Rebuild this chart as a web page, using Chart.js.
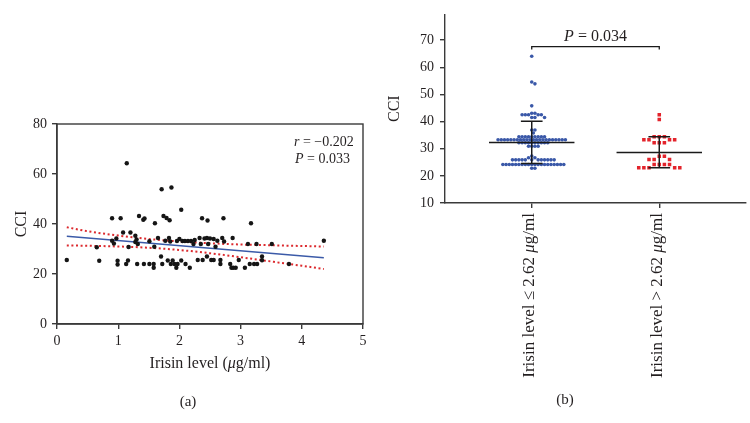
<!DOCTYPE html>
<html>
<head>
<meta charset="utf-8">
<script src="https://cdn.jsdelivr.net/npm/chart.js@4.4.1/dist/chart.umd.min.js"></script>
<style>
  html, body { margin: 0; padding: 0; background: #fff; }
  #wrap { position: relative; width: 750px; height: 423px; }
  #left, #right { position: absolute; top: 0; }
  #left { left: 0; }
  #right { left: 375px; }
</style>
</head>
<body>
<div id="wrap">
  <canvas id="left" width="375" height="423"></canvas>
  <canvas id="right" width="375" height="423"></canvas>
</div>
<script>
// panel (a): irisin level vs CCI
const irisin = [0.16, 0.65, 0.69, 0.90, 0.90, 0.93, 0.97, 0.99, 0.99, 1.04,
  1.08, 1.13, 1.14, 1.16, 1.17, 1.20, 1.28, 1.30, 1.28, 1.32,
  1.31, 1.34, 1.41, 1.43, 1.42, 1.51, 1.51, 1.58, 1.58, 1.59,
  1.60, 1.65, 1.71, 1.70, 1.72, 1.74, 1.77, 1.79, 1.81, 1.83,
  1.84, 1.85, 1.86, 1.87, 1.89, 1.92, 1.95, 1.97, 1.96, 2.00,
  2.03, 2.03, 2.05, 2.09, 2.10, 2.14, 2.17, 2.19, 2.23, 2.25,
  2.30, 2.33, 2.35, 2.37, 2.38, 2.41, 2.45, 2.45, 2.46, 2.47,
  2.50, 2.52, 2.56, 2.56, 2.59, 2.62, 2.67, 2.67, 2.70, 2.72,
  2.73, 2.83, 2.85, 2.87, 2.88, 2.92, 2.97, 3.07, 3.12, 3.15,
  3.17, 3.22, 3.26, 3.27, 3.35, 3.35, 3.51, 3.79, 4.36];
const cci = [25.6, 30.7, 25.3, 42.3, 33.3, 32.2, 34.2, 25.3, 23.8, 42.3,
  36.6, 24.0, 64.3, 25.4, 30.8, 36.6, 35.3, 33.8, 32.8, 32.0,
  24.0, 43.2, 41.7, 42.2, 24.0, 33.1, 24.0, 22.5, 24.0, 30.9,
  40.3, 34.4, 53.9, 27.0, 24.0, 43.2, 33.3, 42.4, 25.4, 34.4,
  41.5, 33.0, 24.0, 54.6, 25.4, 24.0, 22.5, 24.0, 33.2, 34.0,
  45.7, 25.4, 33.2, 33.2, 24.0, 33.2, 22.5, 33.2, 32.0, 33.6,
  25.6, 34.4, 32.0, 42.3, 25.6, 34.2, 34.4, 27.0, 41.4, 32.0,
  34.2, 25.6, 25.6, 34.0, 30.9, 33.3, 25.6, 24.0, 34.4, 42.3,
  33.0, 24.0, 22.5, 34.4, 22.5, 22.5, 25.6, 22.5, 32.0, 24.0,
  40.3, 24.0, 32.0, 24.0, 27.0, 25.5, 32.0, 24.0, 33.3];

const fitX = [0.16, 4.36];
const fitY = [35.1, 26.5];
const bandX = [0.16, 0.5, 1.0, 1.5, 2.0, 2.5, 3.0, 3.5, 4.0, 4.36];
const bandUpper = [38.7, 37.1, 35.4, 34.0, 33.0, 32.3, 31.8, 31.5, 31.2, 31.0];
const bandLower = [31.4, 31.3, 31.0, 30.5, 29.6, 28.3, 26.7, 25.0, 23.3, 22.0];
const statR = '\u22120.202';
const statP = '0.033';

// panel (b): CCI by irisin group
const groupNames = ['Irisin level \u2264 2.62 ', 'Irisin level > 2.62 '];
const lowIrisin = [64.1, 54.6, 53.9, 45.8, 43.1, 43.1,
  42.5, 42.5, 42.5, 42.5, 42.5, 41.5, 41.5, 41.5, 36.9, 36.9, 35.8,
  34.4, 34.4, 34.4, 34.4, 34.4, 34.4, 34.4, 34.4, 34.4,
  33.3, 33.3, 33.3, 33.3, 33.3, 33.3, 33.3, 33.3, 33.3, 33.3, 33.3,
  33.3, 33.3, 33.3, 33.3, 33.3, 33.3, 33.3, 33.3, 33.3, 33.3, 33.3,
  32.2, 32.2, 32.2, 32.2, 32.2, 32.2, 32.2, 32.2, 32.2, 32.2,
  30.9, 30.9, 30.9, 30.9, 27.3, 26.7, 26.7,
  25.9, 25.9, 25.9, 25.9, 25.9, 25.9, 25.9, 25.9, 25.9, 25.9, 25.9, 25.9,
  24.2, 24.2, 24.2, 24.2, 24.2, 24.2, 24.2, 24.2, 24.2, 24.2,
  24.2, 24.2, 24.2, 24.2, 24.2, 24.2, 24.2, 24.2, 24.2, 24.2,
  22.8, 22.8];
const highIrisin = [42.5, 40.8, 34.4, 34.4, 34.4, 33.3, 33.3, 33.3, 33.3,
  32.2, 32.2, 32.2, 27.2, 27.2, 26.0, 26.0, 26.0,
  24.2, 24.2, 24.2, 24.2, 23.0, 23.0, 23.0, 23.0, 23.0];
const groupMean = [32.3, 28.6];
const groupLow = [24.6, 23.0];
const groupHigh = [40.1, 34.4];
const pGroups = '0.034';
const bracketY = 67.6;
const bracketFoot = 66.6;

const SERIF = '"Liberation Serif", "Times New Roman", serif';
const INK = '#231f20';
const AXIS = '#3a3a3a';

function font(size, italic) {
  return (italic ? 'italic ' : '') + size + 'px ' + SERIF;
}

// draw text made of plain/italic pieces
function drawRich(ctx, parts, x, y, size, align) {
  let w = 0;
  parts.forEach(p => { ctx.font = font(size, p[1]); w += ctx.measureText(p[0]).width; });
  let cx = align === 'right' ? x - w : align === 'center' ? x - w / 2 : x;
  ctx.textBaseline = 'middle';
  ctx.textAlign = 'left';
  ctx.fillStyle = INK;
  parts.forEach(p => {
    ctx.font = font(size, p[1]);
    ctx.fillText(p[0], cx, y);
    cx += ctx.measureText(p[0]).width;
  });
}

// simple beeswarm: values stay on their y, x moves out until no overlap
function swarm(values, center, dotW, dotH) {
  const placed = [];
  [...values].sort((a, b) => b - a).forEach(v => {
    for (let k = 0; k < 400; k++) {
      const off = (k % 2 ? 1 : -1) * Math.ceil(k / 2) * dotW / 2;
      const hit = placed.some(p => {
        const a = (p.x - center - off) / dotW, b = (p.y - v) / dotH;
        return a * a + b * b < 0.98;
      });
      if (!hit) { placed.push({x: center + off, y: v}); break; }
    }
  });
  return placed;
}

Chart.defaults.font.family = SERIF;
Chart.defaults.color = INK;

const axisStyle = {
  border: {display: true, color: AXIS, width: 1.4},
  grid: {drawOnChartArea: false, drawTicks: true, tickLength: 5, color: AXIS, lineWidth: 1.4}
};

// ---------- panel (a) ----------
const leftNotes = {
  id: 'leftNotes',
  afterDraw(chart) {
    const {ctx, chartArea: a} = chart;
    ctx.save();
    ctx.strokeStyle = AXIS;
    ctx.lineWidth = 1.4;
    ctx.strokeRect(a.left, a.top, a.right - a.left, a.bottom - a.top);
    drawRich(ctx, [['r', true], [' = ' + statR, false]], a.right - 69, a.top + 18, 14, 'left');
    drawRich(ctx, [['P', true], [' = ' + statP, false]], a.right - 68, a.top + 35, 14, 'left');
    const mid = (a.left + a.right) / 2;
    drawRich(ctx, [['Irisin level (', false], ['\u03bc', true], ['g/ml)', false]], mid, a.bottom + 40, 16, 'center');
    drawRich(ctx, [['(a)', false]], 188, 402, 15, 'center');
    ctx.restore();
  }
};

new Chart(document.getElementById('left'), {
  type: 'scatter',
  data: {
    datasets: [
      {
        data: irisin.map((x, i) => ({x, y: cci[i]})),
        pointRadius: 2.2, pointBackgroundColor: '#151515', pointBorderWidth: 0
      },
      {
        data: fitX.map((x, i) => ({x, y: fitY[i]})),
        showLine: true, pointRadius: 0, borderColor: '#3b5aa8', borderWidth: 1.3
      },
      {
        data: bandX.map((x, i) => ({x, y: bandUpper[i]})),
        showLine: true, pointRadius: 0, borderColor: '#dc2a2e', borderWidth: 2,
        borderDash: [2, 2.6], tension: 0.4, cubicInterpolationMode: 'monotone'
      },
      {
        data: bandX.map((x, i) => ({x, y: bandLower[i]})),
        showLine: true, pointRadius: 0, borderColor: '#dc2a2e', borderWidth: 2,
        borderDash: [2, 2.6], tension: 0.4, cubicInterpolationMode: 'monotone'
      }
    ]
  },
  options: {
    responsive: false,
    animation: false,
    layout: {padding: {left: 0, top: 124, right: 12, bottom: 0}},
    plugins: {legend: {display: false}, tooltip: {enabled: false}},
    scales: {
      x: {
        type: 'linear', min: 0, max: 5,
        ...axisStyle,
        ticks: {stepSize: 1, padding: 4, font: {size: 14}, color: INK},
        afterFit: s => { s.height = 99; }
      },
      y: {
        type: 'linear', min: 0, max: 80,
        ...axisStyle,
        ticks: {stepSize: 20, padding: 5, font: {size: 14}, color: INK},
        title: {display: true, text: 'CCI', font: {size: 16}, color: INK, padding: {top: 12, bottom: 0}},
        afterFit: s => { s.width = 57; }
      }
    }
  },
  plugins: [leftNotes]
});

// ---------- panel (b) ----------
const xMinB = 0.32, xMaxB = 2.68, plotWB = 305;
const yMinB = 10, yMaxB = 79.5, plotHB = 203;
const unitX = (xMaxB - xMinB) / plotWB;   // data units per pixel
const unitY = (yMaxB - yMinB) / plotHB;
const lowPts = swarm(lowIrisin, 1, 3.25 * unitX, 3.6 * unitY);
const highPts = swarm(highIrisin, 2, 5.2 * unitX, 4.3 * unitY);

const meanHalf = 0.335, capHalf = 0.085;
const barSets = [];
[1, 2].forEach((c, i) => {
  barSets.push({
    data: [{x: c - meanHalf, y: groupMean[i]}, {x: c + meanHalf, y: groupMean[i]}],
    showLine: true, pointRadius: 0, borderColor: '#1a1a1a', borderWidth: 1.5
  });
  barSets.push({
    data: [
      {x: c - capHalf, y: groupHigh[i]}, {x: c + capHalf, y: groupHigh[i]},
      {x: c, y: groupHigh[i]}, {x: c, y: groupLow[i]},
      {x: c - capHalf, y: groupLow[i]}, {x: c + capHalf, y: groupLow[i]}
    ],
    showLine: true, pointRadius: 0, borderColor: '#1a1a1a', borderWidth: 1.5
  });
});

const rightNotes = {
  id: 'rightNotes',
  afterDraw(chart) {
    const {ctx, chartArea: a, scales: {x, y}} = chart;
    ctx.save();
    drawRich(ctx, [['P', true], [' = ' + pGroups, false]], x.getPixelForValue(1.5), y.getPixelForValue(bracketY) - 10, 16, 'center');
    [1, 2].forEach((v, i) => {
      ctx.save();
      ctx.translate(x.getPixelForValue(v) - 2, a.bottom + 10);
      ctx.rotate(-Math.PI / 2);
      drawRich(ctx, [[groupNames[i], false], ['\u03bc', true], ['g/ml', false]], 0, 0, 17, 'right');
      ctx.restore();
    });
    drawRich(ctx, [['(b)', false]], 190, 400, 15, 'center');
    ctx.restore();
  }
};

new Chart(document.getElementById('right'), {
  type: 'scatter',
  data: {
    datasets: [
      ...barSets,
      {
        data: [{x: 1, y: bracketFoot}, {x: 1, y: bracketY}, {x: 2, y: bracketY}, {x: 2, y: bracketFoot}],
        showLine: true, pointRadius: 0, borderColor: '#1a1a1a', borderWidth: 1.3
      },
      {
        data: lowPts,
        pointRadius: 1.8, pointBackgroundColor: '#3a58a8', pointBorderWidth: 0
      },
      {
        data: highPts,
        pointStyle: 'rect', pointRadius: 2.5, pointBackgroundColor: '#e3232b', pointBorderWidth: 0
      }
    ]
  },
  options: {
    responsive: false,
    animation: false,
    layout: {padding: 0},
    plugins: {legend: {display: false}, tooltip: {enabled: false}},
    scales: {
      x: {
        type: 'linear', min: xMinB, max: xMaxB,
        ...axisStyle,
        ticks: {callback: () => '', autoSkip: false},
        afterBuildTicks: s => { s.ticks = [1, 2].map(v => ({value: v})); },
        afterFit: s => { s.height = 220; }
      },
      y: {
        type: 'linear', min: yMinB, max: yMaxB,
        ...axisStyle,
        ticks: {stepSize: 10, includeBounds: false, padding: 6, font: {size: 14}, color: INK},
        title: {display: true, text: 'CCI', font: {size: 16}, color: INK, padding: {top: 10, bottom: 0}},
        afterFit: s => { s.width = 70; }
      }
    }
  },
  plugins: [rightNotes]
});
</script>
</body>
</html>
